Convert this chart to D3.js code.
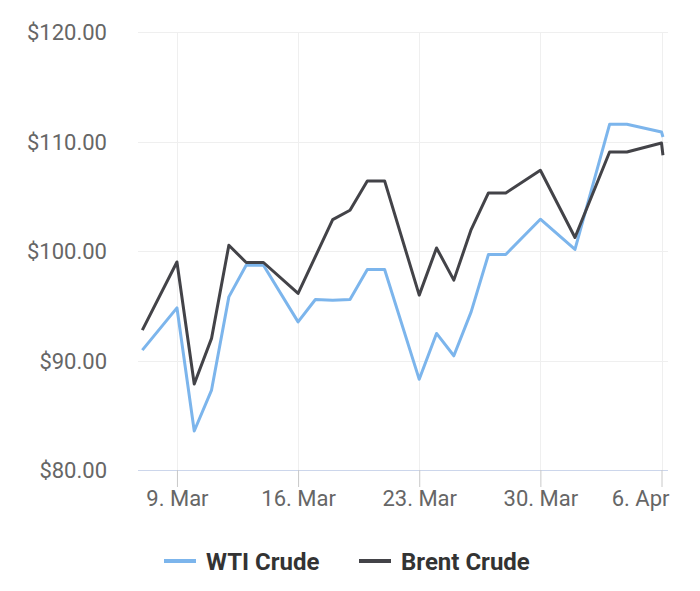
<!DOCTYPE html>
<meta charset="utf-8">
<style>
    body {
        margin: 0;
        background: #fff;
        font-family: Roboto, Arial, sans-serif;
    }

    .grid line {
        stroke: #efefef;
        stroke-width: 1px;
    }

    .axis text {
        fill: #666666;
        font-family: Roboto, Arial, sans-serif;
        font-size: 22px;
    }

    .legend text {
        fill: #333333;
        font-family: Roboto, Arial, sans-serif;
        font-size: 24px;
        font-weight: 700;
    }
</style>

<body>
    <svg id="chart" width="700" height="591"></svg>

    <script src="https://cdnjs.cloudflare.com/ajax/libs/d3/7.8.5/d3.min.js"></script>

    <script>
        // trading days shown in the chart (last one is a second reading on 6 Apr)
        var dates = ["2022-03-07", "2022-03-09", "2022-03-10", "2022-03-11", "2022-03-12", "2022-03-13",
            "2022-03-14", "2022-03-16", "2022-03-17", "2022-03-18", "2022-03-19", "2022-03-20",
            "2022-03-21", "2022-03-23", "2022-03-24", "2022-03-25", "2022-03-26", "2022-03-27",
            "2022-03-28", "2022-03-30", "2022-04-01", "2022-04-03", "2022-04-04", "2022-04-06",
            "2022-04-06T02:00"];

        var wtiPrices = [90.95, 94.81, 83.56, 87.30, 95.81, 98.70,
            98.70, 93.53, 95.57, 95.51, 95.57, 98.31,
            98.31, 88.28, 92.47, 90.43, 94.44, 99.68,
            99.68, 102.90, 100.14, 111.57, 111.57, 110.87,
            110.41];

        // no Brent quote on 17 Mar
        var brentPrices = [92.77, 99.00, 87.85, 92.02, 100.53, 98.95,
            98.95, 96.12, null, 102.87, 103.72, 106.40,
            106.40, 95.97, 100.28, 97.34, 101.96, 105.30,
            105.30, 107.37, 101.23, 109.04, 109.04, 109.86,
            108.74];

        var seriesNames = ["WTI Crude", "Brent Crude"];
        var seriesColors = ["#7cb5ec", "#434348"];

        var yTicks = [80, 90, 100, 110, 120];
        var xTicks = ["2022-03-09", "2022-03-16", "2022-03-23", "2022-03-30", "2022-04-06"];

        var renderChart = function () {
            var parse = d3.isoParse;

            var svg = d3.select("#chart");
            var plotLeft = 138, plotRight = 668, plotTop = 32, plotBottom = 470;

            var x = d3.scaleTime()
                .domain([d3.timeHour.offset(parse("2022-03-07"), -6), d3.timeHour.offset(parse("2022-04-06"), 9)])
                .range([plotLeft, plotRight]);

            var y = d3.scaleLinear()
                .domain([80, 120])
                .range([plotBottom, plotTop]);

            // horizontal grid
            svg.append("g")
                .attr("class", "grid")
                .selectAll("line")
                .data(yTicks)
                .enter().append("line")
                .attr("x1", plotLeft)
                .attr("x2", plotRight)
                .attr("y1", function (d) { return Math.round(y(d)) + 0.5; })
                .attr("y2", function (d) { return Math.round(y(d)) + 0.5; });

            // vertical grid
            svg.append("g")
                .attr("class", "grid")
                .selectAll("line")
                .data(xTicks)
                .enter().append("line")
                .attr("x1", function (d) { return Math.round(x(parse(d))) + 0.5; })
                .attr("x2", function (d) { return Math.round(x(parse(d))) + 0.5; })
                .attr("y1", plotTop)
                .attr("y2", plotBottom);

            // y axis labels
            var yAxis = svg.append("g")
                .attr("class", "axis")
                .attr("transform", "translate(" + plotLeft + ",0)")
                .call(d3.axisLeft(y).tickValues(yTicks).tickSize(0).tickPadding(31)
                    .tickFormat(function (d) { return "$" + d3.format(".2f")(d); }));
            yAxis.select(".domain").remove();
            yAxis.selectAll("text").attr("dy", "0.36em");

            // x axis
            var xAxis = svg.append("g")
                .attr("class", "axis")
                .attr("transform", "translate(0," + plotBottom + ")")
                .call(d3.axisBottom(x).tickValues(xTicks.map(parse)).tickSize(17).tickPadding(2)
                    .tickFormat(d3.timeFormat("%-d. %b")));
            xAxis.select(".domain")
                .attr("d", "M" + plotLeft + ",0.5H" + plotRight)
                .attr("stroke", "#ccd6eb");
            xAxis.selectAll(".tick line").attr("stroke", "#c8c8c8");
            xAxis.selectAll("text").attr("dy", "0.78em");

            // last label is pushed inside the plot edge
            var lastX = x(parse(xTicks[xTicks.length - 1]));
            xAxis.selectAll(".tick text")
                .filter(function (d, i) { return i === xTicks.length - 1; })
                .attr("text-anchor", "end")
                .attr("x", plotRight + 1 - lastX);

            var line = d3.line()
                .x(function (d) { return x(d.date); })
                .y(function (d) { return y(d.value); });

            [wtiPrices, brentPrices].forEach(function (values, i) {
                var points = dates.map(function (d, j) {
                    return { date: parse(d), value: values[j] };
                }).filter(function (p) { return p.value != null; });

                svg.append("path")
                    .datum(points)
                    .attr("fill", "none")
                    .attr("stroke", seriesColors[i])
                    .attr("stroke-width", 3)
                    .attr("stroke-linejoin", "round")
                    .attr("d", line);
            });

            // legend
            var legend = svg.append("g").attr("class", "legend");
            var legendX = [164, 359];
            seriesNames.forEach(function (name, i) {
                var item = legend.append("g")
                    .attr("transform", "translate(" + legendX[i] + ",561)");
                item.append("line")
                    .attr("x1", 0)
                    .attr("x2", 32)
                    .attr("stroke", seriesColors[i])
                    .attr("stroke-width", 4);
                item.append("text")
                    .attr("x", 42)
                    .attr("dy", "0.36em")
                    .text(name);
            });
        }
        renderChart();
    </script>
</body>
